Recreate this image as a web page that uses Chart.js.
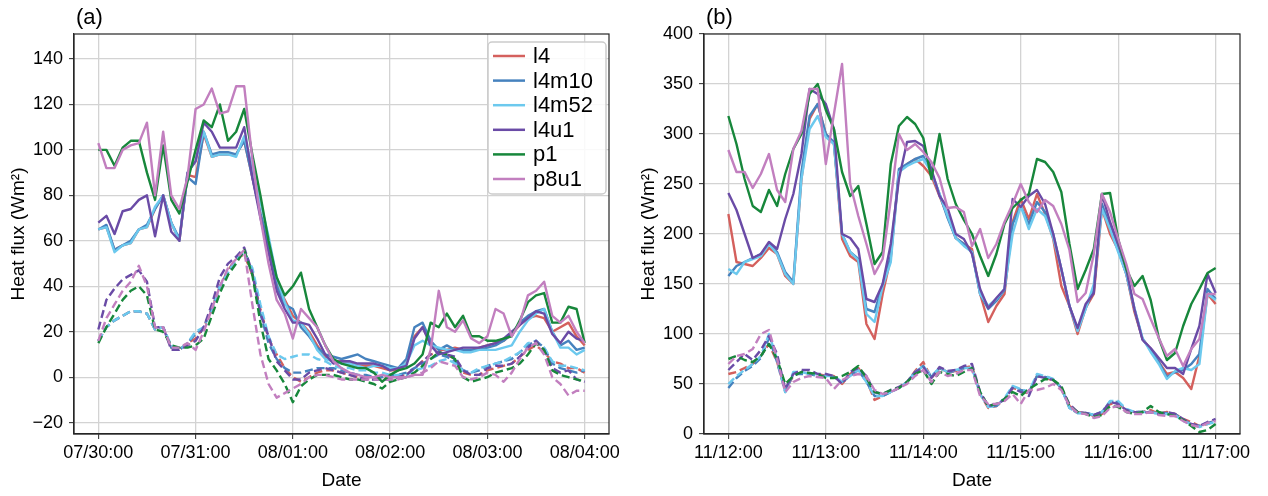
<!DOCTYPE html>
<html lang="en">
<head>
  <meta charset="UTF-8">
  <title>Heat flux</title>
  <script src="https://cdn.jsdelivr.net/npm/chart.js@4.4.0/dist/chart.umd.min.js"></script>
  <style>
    body { margin: 0; background: #fff; }
    #wrap { position: relative; width: 1268px; height: 496px; }
    .panel { position: absolute; top: 0; width: 634px; height: 496px; }
    canvas { display: block; }
  </style>
</head>
<body>
<div id="wrap">
  <div class="panel" style="left:0"><canvas id="chartA" width="634" height="496"></canvas></div>
  <div class="panel" style="left:634px"><canvas id="chartB" width="634" height="496"></canvas></div>
</div>

<script>
  // hours since the first tick, one sample every 2 h
  const hours = [0,2,4,6,8,10,12,14,16,18,20,22,24,26,28,30,32,34,36,38,40,
    42,44,46,48,50,52,54,56,58,60,62,64,66,68,70,72,74,76,78,80,
    82,84,86,88,90,92,94,96,98,100,102,104,106,108,110,112,114,116,118,120];

  const names = ['l4', 'l4m10', 'l4m52', 'l4u1', 'p1', 'p8u1'];
  const colors = ['#d4605d', '#4682be', '#6cc9ee', '#6a4ba6', '#17873b', '#c27fbf'];

  const xTicks = [0, 24, 48, 72, 96, 120];
  const xLabelsA = ['07/30:00', '07/31:00', '08/01:00', '08/02:00', '08/03:00', '08/04:00'];
  const xLabelsB = ['11/12:00', '11/13:00', '11/14:00', '11/15:00', '11/16:00', '11/17:00'];
  const yTicksA = [-20, 0, 20, 40, 60, 80, 100, 120, 140];
  const yTicksB = [0, 50, 100, 150, 200, 250, 300, 350, 400];

  // panel (a) - solid lines
  const a_l4 = [65,66,56,58,59,65,66,74,80,68,60,89,88,107,97,98,98,98,104,88,72,
    60,42,34,27,24,20,14,9,7,7, 6,5,5,5,4,3,3,6,18,22,
    15,12,12,13,12,12,13,14,15,16, 19,23,26,27,26,20,22,24,18,14];
  const a_l4m10 = [65,67,56,58,60,65,67,74,80,68,61,88,85,108,98,99,99,98,104,88,72,
    58,40,32,30,22,18,13,10,9,8, 9,10,8,7,6,5,4,8,22,24,
    16,12,14,12,12,12,12,13,14,16, 19,24,27,29,30,20,14,16,12,13];
  const a_l4m52 = [65,66,55,58,59,65,66,75,80,68,60,90,95,108,97,98,98,97,106,92,77,
    62,44,33,25,24,19,12,8,7,6, 6,5,4,5,5,4,4,6,14,16,
    14,13,12,12,11,11,12,12,12,13, 14,20,25,28,30,20,13,13,10,12];
  const a_l4u1 = [68,71,63,73,74,78,80,62,80,64,60,90,95,112,108,101,101,101,110,88,70,
    55,38,30,24,24,23,17,10,6,7, 7,6,6,6,5,3,4,5,17,22,
    14,10,11,12,13,13,13,14,15,17, 20,23,26,29,28,19,15,20,17,16];
  const a_p1 = [100,100,93,101,104,104,90,78,102,78,72,86,100,113,110,120,104,108,118,98,80,
    60,44,36,40,46,30,22,14,8,6, 5,4,4,2,-2,1,3,4,6,10,
    24,22,28,22,27,18,18,16,16,17, 18,25,33,36,37,24,24,31,30,15];
  const a_p8u1 = [103,92,92,100,102,103,112,80,108,80,74,88,118,120,127,116,117,128,128,96,70,
    50,34,28,17,30,26,22,14,7,4, 2,1,0,0,1,0,0,0,1,1,
    12,38,22,20,25,17,15,18,30,28, 18,24,36,38,42,27,24,27,20,15];

  // panel (a) - dashed lines
  const a_l4_d = [16,22,25,27,29,29,28,21,22,13,12,15,17,22,30,40,47,52,54,45,30,
    17,10,4,0,-2,0,2,3,3,2, 1,0,0,0,-1,0,0,1,4,7,
    10,11,10,8,2,1,1,3,4,5, 6,9,12,14,11,7,6,4,4,2];
  const a_l4m10_d = [16,22,25,27,29,29,28,21,22,13,12,15,19,22,30,40,46,52,55,46,28,
    15,8,4,2,2,3,4,4,4,3, 2,1,1,0,0,1,1,2,4,6,
    8,10,9,7,3,2,3,5,6,7, 8,11,14,16,13,6,4,3,2,3];
  const a_l4m52_d = [16,22,25,27,29,29,28,21,22,14,12,15,20,22,30,40,46,52,55,48,32,
    18,10,8,9,10,10,8,7,5,4, 4,3,3,2,2,1,1,1,3,4,
    5,7,8,6,3,2,4,5,6,7, 9,11,15,16,13,7,5,5,4,3];
  const a_l4u1_d = [21,34,39,43,45,47,42,22,22,12,12,14,16,22,32,44,50,53,57,46,28,
    18,7,3,-1,-1,2,3,4,3,2, 1,0,-1,-1,-1,-1,0,1,4,7,
    10,11,10,9,3,1,1,4,5,5, 6,9,13,16,12,4,2,3,-1,-2];
  const a_p1_d = [15,22,28,34,38,40,36,21,20,14,13,13,14,17,27,37,45,50,56,45,24,
    8,3,-3,-11,-4,-1,1,1,1,0, -1,-1,-2,-3,-5,-2,-1,0,2,5,
    8,11,10,8,0,-2,-1,0,2,3, 4,6,10,15,12,3,1,0,-1,-2];
  const a_p8u1_d = [16,26,32,38,42,49,40,22,22,13,13,15,12,20,30,40,48,52,56,32,10,
    -3,-9,-7,-5,-3,0,1,1,0,-1, -1,-1,-1,-1,-1,-1,-1,0,1,2,
    4,7,6,5,0,-1,0,2,1,-2, 2,8,13,15,10,0,-3,-8,-6,-6];

  // panel (b) - solid lines
  const b_l4 = [220,172,170,168,176,186,180,158,150,255,315,330,300,290,195,178,172,110,95,140,176,
    262,270,275,268,258,238,218,196,190,185, 140,112,128,140,212,235,215,240,220,195,
    148,128,100,126,140,225,200,184,160,122, 95,85,72,60,62,56,45,78,140,130];
  const b_l4m10 = [158,168,172,176,180,190,182,162,152,262,318,330,300,292,200,182,175,125,122,150,178,
    265,270,275,278,262,240,216,196,190,182, 140,125,133,144,210,228,210,232,222,200,
    165,128,104,126,145,230,207,185,160,125, 95,84,72,57,62,64,70,80,145,135];
  const b_l4m52 = [165,160,172,175,178,190,180,160,150,255,305,318,297,290,200,182,174,120,112,148,172,
    262,268,272,275,262,240,218,196,188,182, 140,128,135,145,200,228,205,225,218,196,
    165,128,103,125,150,225,205,182,160,126, 96,82,70,55,63,66,64,70,140,134];
  const b_l4u1 = [241,224,200,176,180,192,185,215,240,280,345,340,330,305,200,196,185,135,132,150,190,
    255,292,293,288,265,238,226,200,195,180, 145,126,136,145,235,227,238,244,230,200,
    165,128,106,130,141,240,212,190,165,125, 94,86,76,66,66,60,85,108,160,141];
  const b_p1 = [318,290,255,228,222,244,228,260,285,300,340,350,324,305,262,238,248,210,170,182,270,
    308,317,310,296,255,300,255,230,214,200, 178,158,180,210,226,234,240,275,272,262,
    242,190,145,164,185,240,241,195,165,148, 158,134,96,74,81,108,130,145,161,166];
  const b_p8u1 = [284,262,262,246,260,280,244,232,285,303,345,345,270,320,370,250,218,190,160,175,234,
    300,284,290,282,272,256,226,227,222,188, 205,176,190,212,230,250,232,222,234,228,
    210,184,132,141,180,240,222,195,170,140, 135,115,96,78,85,68,85,95,140,140];

  // panel (b) - dashed lines
  const b_l4_d = [60,62,66,70,78,90,72,44,58,62,60,60,58,58,50,60,66,54,34,38,42,
    46,52,63,72,56,66,62,63,66,68, 40,26,28,34,46,44,40,58,56,54,
    46,28,22,21,18,20,30,31,24,22, 22,24,20,22,20,15,12,8,10,14];
  const b_l4m10_d = [46,56,63,68,76,96,72,42,60,60,60,58,58,57,52,58,64,52,38,38,42,
    46,52,62,68,57,66,62,63,66,66, 40,28,28,35,47,44,42,58,57,55,
    46,26,21,21,19,22,32,32,24,22, 22,22,20,21,20,14,10,8,11,13];
  const b_l4m52_d = [50,58,64,70,78,100,75,42,62,62,60,60,58,58,52,58,64,52,38,38,42,
    46,52,62,68,58,66,62,64,66,66, 40,27,28,36,48,45,42,60,58,55,
    46,26,21,21,19,22,33,33,25,22, 22,22,20,20,19,13,10,7,10,12];
  const b_l4u1_d = [64,72,80,74,84,98,80,45,60,64,64,60,60,58,50,62,66,58,42,40,44,
    47,52,62,67,56,67,63,64,68,70, 42,28,30,34,46,42,38,58,56,54,
    46,30,22,21,19,22,32,30,24,22, 21,22,20,22,20,15,10,8,12,15];
  const b_p1_d = [75,78,74,72,78,90,75,50,58,62,61,60,56,56,58,62,68,56,42,40,44,
    46,52,60,64,50,62,60,58,62,66, 42,28,30,35,42,38,45,50,55,54,
    48,28,22,20,17,19,28,27,22,20, 22,28,22,20,18,14,8,2,4,10];
  const b_p8u1_d = [70,78,80,85,100,104,75,42,52,56,58,57,56,45,54,58,60,58,44,40,42,
    46,50,58,64,52,62,58,60,64,64, 38,30,30,33,40,30,44,44,46,50,
    44,28,21,20,16,18,26,28,22,20, 20,22,19,18,18,13,9,7,11,13];

  const FONT = '"Liberation Sans", Arial, Helvetica, sans-serif';

  function pts(vals) {
    return vals.map((v, i) => ({ x: hours[i], y: v }));
  }

  // box round the plot area + panel letter
  const framePlugin = {
    id: 'frame',
    afterDatasetsDraw(chart, args, opts) {
      const { ctx, chartArea: a } = chart;
      ctx.save();
      ctx.strokeStyle = '#262626';
      ctx.lineWidth = 1.2;
      ctx.strokeRect(a.left, a.top, a.right - a.left, a.bottom - a.top);
      ctx.fillStyle = '#000';
      ctx.font = '22px ' + FONT;
      ctx.textAlign = 'left';
      ctx.textBaseline = 'bottom';
      ctx.fillText(opts.label, a.left + 2, a.top - 5);
      ctx.restore();
    }
  };

  // matplotlib-like legend in the upper right corner
  const boxLegend = {
    id: 'boxLegend',
    afterDraw(chart, args, opts) {
      if (!opts.show) return;
      const { ctx, chartArea: a } = chart;
      const w = 118, h = 152;
      const x = a.right - w - 3, y = a.top + 8;
      ctx.save();
      ctx.beginPath();
      ctx.roundRect(x, y, w, h, 4);
      ctx.fillStyle = 'rgba(255,255,255,0.85)';
      ctx.fill();
      ctx.strokeStyle = '#cccccc';
      ctx.lineWidth = 1.5;
      ctx.stroke();
      ctx.font = '22px ' + FONT;
      ctx.textBaseline = 'middle';
      names.forEach((n, i) => {
        const cy = y + 14 + i * 24.6;
        ctx.strokeStyle = colors[i];
        ctx.lineWidth = 2.5;
        ctx.beginPath();
        ctx.moveTo(x + 5, cy);
        ctx.lineTo(x + 37, cy);
        ctx.stroke();
        ctx.fillStyle = '#000';
        ctx.fillText(n, x + 45, cy + 1);
      });
      ctx.restore();
    }
  };

  function buildChart(id, p) {
    const datasets = [];
    names.forEach((n, i) => {
      datasets.push({
        label: n, data: pts(p.solid[i]), borderColor: colors[i],
        borderWidth: 2.4, order: 5 - i
      });
      datasets.push({
        label: n + ' dashed', data: pts(p.dashed[i]), borderColor: colors[i],
        borderWidth: 2.4, borderDash: [8, 4], order: 11 - i
      });
    });

    const grid = { color: '#d3d3d3', lineWidth: 1.3, tickLength: 5, tickColor: '#262626', tickWidth: 1 };

    new Chart(document.getElementById(id), {
      type: 'line',
      data: { datasets },
      options: {
        responsive: false,
        animation: false,
        layout: { padding: { left: 0, right: p.padRight, top: 34, bottom: 0 } },
        elements: {
          point: { radius: 0 },
          line: { tension: 0, fill: false, borderJoinStyle: 'round' }
        },
        plugins: {
          legend: { display: false },
          tooltip: { enabled: false },
          frame: { label: p.label },
          boxLegend: { show: p.legend }
        },
        scales: {
          x: {
            type: 'linear', min: -6, max: 126,
            afterBuildTicks: s => { s.ticks = xTicks.map(v => ({ value: v })); },
            afterFit: s => { s.height = 62; },
            ticks: {
              callback: (v, i) => p.xLabels[i],
              maxRotation: 0, autoSkip: false, padding: 3,
              color: '#000', font: { family: FONT, size: 18 }
            },
            grid: grid,
            border: { color: '#262626', width: 1.2 },
            title: {
              display: true, text: 'Date', color: '#000',
              font: { family: FONT, size: 19 }, padding: { top: 0, bottom: 4 }
            }
          },
          y: {
            min: p.yMin, max: p.yMax,
            afterBuildTicks: s => { s.ticks = p.yTicks.map(v => ({ value: v })); },
            afterFit: s => { s.width = p.yWidth; },
            ticks: {
              callback: v => (v < 0 ? '\u2212' + Math.abs(v) : String(v)),
              padding: 6, color: '#000', font: { family: FONT, size: 18 }
            },
            grid: grid,
            border: { color: '#262626', width: 1.2 },
            title: {
              display: true, text: 'Heat flux (Wm²)', color: '#000',
              font: { family: FONT, size: 19 }, padding: { top: p.titlePad, bottom: 0 }
            }
          }
        }
      },
      plugins: [framePlugin, boxLegend]
    });
  }

  buildChart('chartA', {
    label: '(a)', legend: true,
    solid: [a_l4, a_l4m10, a_l4m52, a_l4u1, a_p1, a_p8u1],
    dashed: [a_l4_d, a_l4m10_d, a_l4m52_d, a_l4u1_d, a_p1_d, a_p8u1_d],
    xLabels: xLabelsA, yTicks: yTicksA, yMin: -25, yMax: 151,
    yWidth: 74, padRight: 25, titlePad: 7
  });

  buildChart('chartB', {
    label: '(b)', legend: false,
    solid: [b_l4, b_l4m10, b_l4m52, b_l4u1, b_p1, b_p8u1],
    dashed: [b_l4_d, b_l4m10_d, b_l4m52_d, b_l4u1_d, b_p1_d, b_p8u1_d],
    xLabels: xLabelsB, yTicks: yTicksB, yMin: 0, yMax: 400,
    yWidth: 70, padRight: 28, titlePad: 3
  });
</script>
</body>
</html>
